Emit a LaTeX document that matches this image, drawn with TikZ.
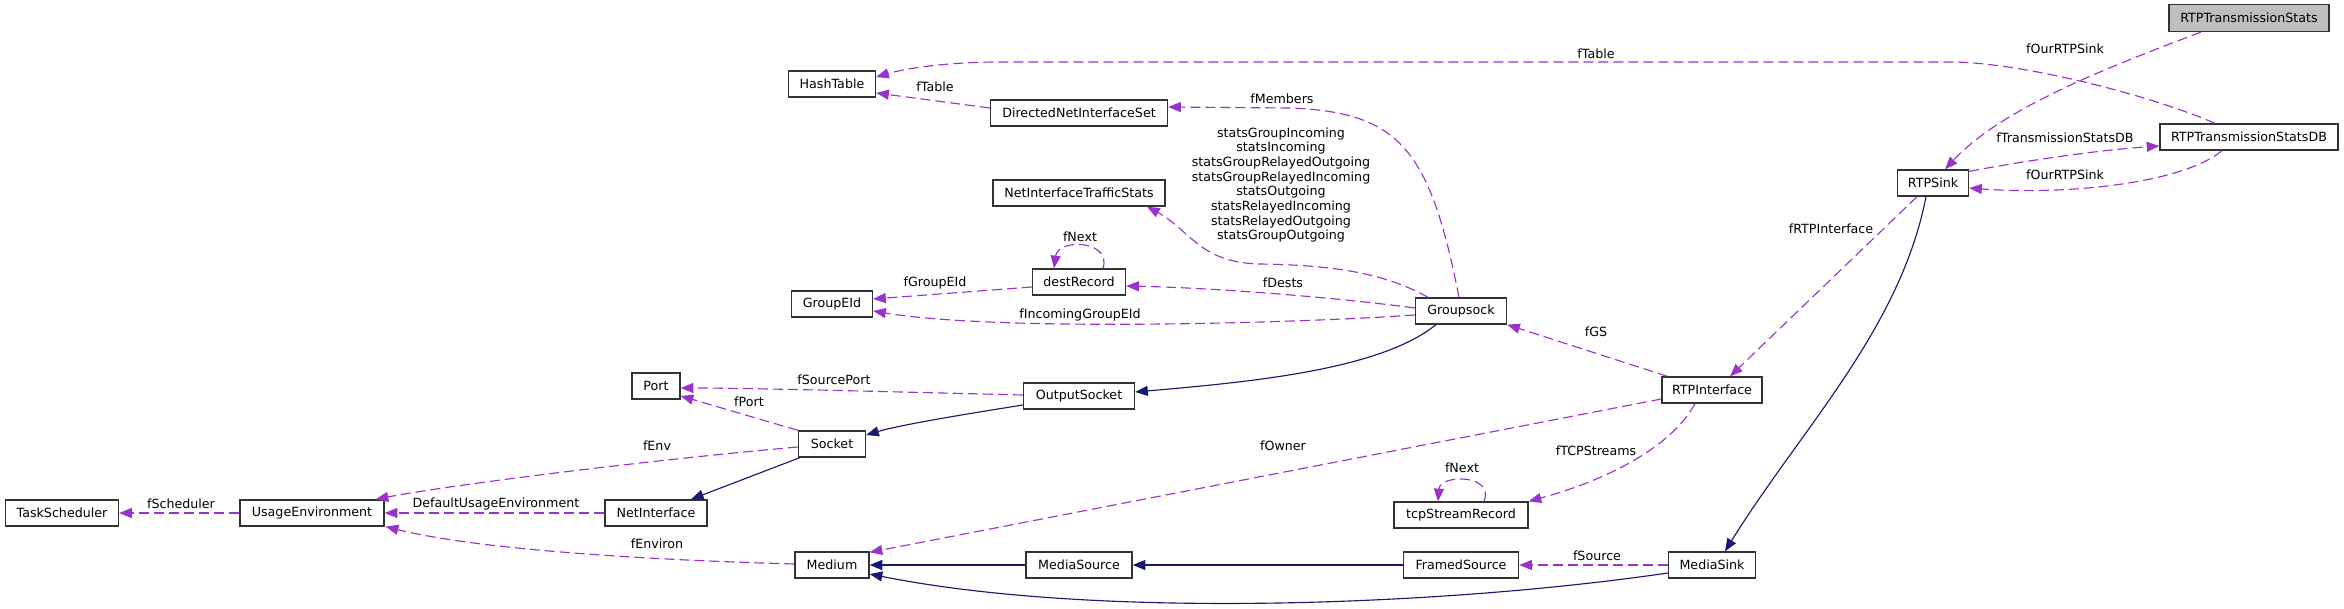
\documentclass[tikz,border=0pt]{standalone}
\usepackage{fontspec}
\setmainfont{DejaVu Sans}
\usetikzlibrary{arrows.meta,calc}
\definecolor{edgep}{HTML}{9A32CD}
\definecolor{edgen}{HTML}{191970}
\definecolor{grayfill}{HTML}{BFBFBF}
\definecolor{boxline}{HTML}{333333}
\begin{document}
\begin{tikzpicture}[x=0.75pt,y=-0.75pt,
  every node/.style={font=\fontsize{9.5pt}{11pt}\selectfont},
  cls/.style={draw=boxline,line width=1pt,fill=white,minimum height=19.5pt,inner sep=0pt,minimum width=#1*0.75pt},
  usage/.style={draw=edgep,line width=0.85pt,dash pattern=on 7.5pt off 3.75pt,-{Triangle[length=9.5pt,width=7.5pt]}},
  inh/.style={draw=edgen,line width=0.85pt,-{Triangle[length=9.5pt,width=7.5pt]}},
  lbl/.style={inner sep=0pt,align=center}]
\fill[white] (0,0) rectangle (2344,609);
\useasboundingbox (0,0) rectangle (2344,609);

% nodes
\node[cls=160,fill=grayfill,minimum height=20.25pt] (RTS) at (2249,18) {RTPTransmissionStats};
\node[cls=87] (HT) at (832,84) {HashTable};
\node[cls=177] (DNIS) at (1079,113) {DirectedNetInterfaceSet};
\node[cls=178] (DB) at (2249,137) {RTPTransmissionStatsDB};
\node[cls=71] (RS) at (1933,183) {RTPSink};
\node[cls=172] (NITS) at (1079,193) {NetInterfaceTrafficStats};
\node[cls=93] (DR) at (1079,282) {destRecord};
\node[cls=81] (GE) at (832,304) {GroupEId};
\node[cls=91] (GS) at (1461,311) {Groupsock};
\node[cls=48] (Port) at (656,386) {Port};
\node[cls=111] (OS) at (1079,396) {OutputSocket};
\node[cls=100] (RI) at (1712,390) {RTPInterface};
\node[cls=67] (Sock) at (832,444) {Socket};
\node[cls=113] (TS) at (62,513) {TaskScheduler};
\node[cls=144] (UE) at (312,513) {UsageEnvironment};
\node[cls=102] (NI) at (656,513) {NetInterface};
\node[cls=134] (TSR) at (1461,515) {tcpStreamRecord};
\node[cls=74] (Med) at (832,565) {Medium};
\node[cls=106] (MSrc) at (1079,565) {MediaSource};
\node[cls=115] (FS) at (1461,565) {FramedSource};
\node[cls=87] (MSink) at (1712,565) {MediaSink};

% edges
\draw[usage] ($(DNIS.west)+(0,-5)$) -- ($(HT.east)+(0,9)$);
\draw[usage] ($(DB.north)+(-34,0)$) .. controls (2150,95) and (2020,62) .. (1950,62) -- (1000,62) .. controls (940,62) and (900,70) .. ($(HT.east)+(0,-7)$);
\draw[usage] ($(GS.north)+(-2,0)$) .. controls (1430,150) and (1400,112) .. (1290,108) -- ($(DNIS.east)+(0,-6)$);
\draw[usage] ($(GS.north)+(-33,0)$) .. controls (1380,270) and (1320,265) .. (1260,264) .. controls (1200,263) and (1190,230) .. ($(NITS.south)+(68,0)$);
\draw[usage] ($(DR.north)+(24,0)$) .. controls (1112,240) and (1058,238) .. ($(DR.north)+(-25,0)$);
\draw[usage] ($(DR.west)+(0,5)$) -- ($(GE.east)+(0,-5)$);
\draw[usage] ($(GS.west)+(0,-3)$) .. controls (1340,298) and (1220,288) .. ($(DR.east)+(0,4)$);
\draw[usage] ($(GS.west)+(0,4)$) .. controls (1300,323) and (1000,332) .. ($(GE.east)+(0,7)$);
\draw[inh] ($(GS.south)+(-25,0)$) .. controls (1380,370) and (1250,382) .. ($(OS.east)+(0,-4)$);
\draw[usage] ($(OS.west)+(0,-1)$) .. controls (900,392) and (750,388) .. ($(Port.east)+(0,2)$);
\draw[usage] (Sock.north west) -- ($(Port.east)+(0,10)$);
\draw[inh] ($(OS.west)+(0,9)$) .. controls (960,415) and (900,425) .. ($(Sock.east)+(0,-9)$);
\draw[usage] ($(Sock.west)+(0,3)$) .. controls (650,460) and (450,485) .. ($(UE.north east)+(-9,0)$);
\draw[inh] ($(Sock.south west)+(2,0)$) -- ($(NI.north)+(35,0)$);
\draw[usage] (UE.west) -- (TS.east);
\draw[usage] (NI.west) -- (UE.east);
\draw[usage] ($(Med.west)+(0,-1)$) .. controls (650,560) and (480,550) .. ($(UE.south east)+(1,0)$);
\draw[usage] ($(RI.west)+(0,9)$) -- ($(Med.north east)+(0,1)$);
\draw[usage] ($(RI.north west)+(6,0)$) -- (GS.south east);
\draw[usage] ($(RS.south)+(-16,0)$) -- ($(RI.north)+(18,0)$);
\draw[inh] ($(RS.south)+(-7,0)$) .. controls (1900,330) and (1800,430) .. ($(MSink.north)+(13,0)$);
\draw[usage] ($(RI.south)+(-17,0)$) .. controls (1670,450) and (1600,482) .. (TSR.north east);
\draw[usage] ($(TSR.north)+(23,0)$) .. controls (1495,474) and (1440,474) .. ($(TSR.north)+(-23,0)$);
\draw[inh] (MSrc.west) -- (Med.east);
\draw[inh] (FS.west) -- (MSrc.east);
\draw[usage] (MSink.west) -- (FS.east);
\draw[inh] ($(MSink.west)+(0,8)$) .. controls (1450,605) and (1100,620) .. ($(Med.east)+(0,9)$);
\draw[usage] ($(RTS.south)+(-48,0)$) .. controls (2100,70) and (2000,110) .. ($(RS.north)+(12,0)$);
\draw[usage] ($(RS.north east)+(0,2)$) .. controls (2030,160) and (2100,150) .. ($(DB.west)+(0,9)$);
\draw[usage] ($(DB.south)+(-27,0)$) .. controls (2180,185) and (2060,195) .. ($(RS.east)+(0,5)$);

% labels
\node[lbl] (l1) at (935,87) {fTable};
\node[lbl] (l2) at (1596,54) {fTable};
\node[lbl] (l3) at (1282,99) {fMembers};
\node[lbl] (l4) at (1281,185) {statsGroupIncoming\\statsIncoming\\statsGroupRelayedOutgoing\\statsGroupRelayedIncoming\\statsOutgoing\\statsRelayedIncoming\\statsRelayedOutgoing\\statsGroupOutgoing};
\node[lbl] (l5) at (1080,237) {fNext};
\node[lbl] (l6) at (935,283) {fGroupEId};
\node[lbl] (l7) at (1283,283) {fDests};
\node[lbl] (l8) at (1080,315) {fIncomingGroupEId};
\node[lbl] (l9) at (834,380) {fSourcePort};
\node[lbl] (l10) at (749,402) {fPort};
\node[lbl] (l11) at (657,446) {fEnv};
\node[lbl] (l12) at (181,504) {fScheduler};
\node[lbl] (l13) at (496,504) {DefaultUsageEnvironment};
\node[lbl] (l14) at (657,544) {fEnviron};
\node[lbl] (l15) at (1283,446) {fOwner};
\node[lbl] (l16) at (1596,332) {fGS};
\node[lbl] (l17) at (1831,229) {fRTPInterface};
\node[lbl] (l18) at (1596,451) {fTCPStreams};
\node[lbl] (l19) at (1462,468) {fNext};
\node[lbl] (l20) at (1597,556) {fSource};
\node[lbl] (l21) at (2065,49) {fOurRTPSink};
\node[lbl] (l22) at (2065,138) {fTransmissionStatsDB};
\node[lbl] (l23) at (2065,175) {fOurRTPSink};
\end{tikzpicture}
\end{document}
